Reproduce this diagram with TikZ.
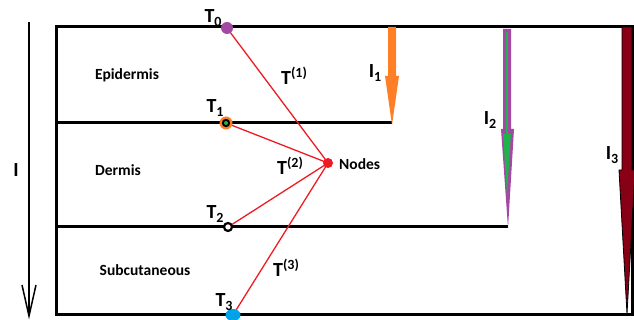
\documentclass[tikz,border=0pt]{standalone}
\usepackage{fontspec}
\setmainfont{Carlito}
\usetikzlibrary{arrows.meta}
\definecolor{orng}{HTML}{FF7F27}
\definecolor{purp}{HTML}{A349A4}
\definecolor{grn}{HTML}{22B14C}
\definecolor{dred}{HTML}{880015}
\definecolor{blu}{HTML}{00A2E8}
\definecolor{rd}{HTML}{ED1C24}
\newcommand{\mysub}[1]{\raisebox{-4pt}{\fontsize{14}{16}\selectfont #1}}
\newcommand{\mysup}[1]{\raisebox{7pt}{\fontsize{14}{16}\selectfont #1}}
\begin{document}
\begin{tikzpicture}[x=1pt,y=-1pt,
  lyr/.style={line width=3pt,black},
  lbl/.style={font=\bfseries\fontsize{15.5}{18}\selectfont,inner sep=0pt},
  tlbl/.style={font=\bfseries\fontsize{20}{22}\selectfont,inner sep=0pt},
  link/.style={rd,line width=1.3pt}]
\useasboundingbox (0,0) rectangle (634,320);
% layers
\draw[lyr] (56,27) -- (632,27) -- (632,314) -- (56,314) -- cycle;
\draw[lyr] (56,123) -- (392,123);
\draw[lyr] (56,227) -- (508,227);
% depth arrow
\coordinate (Itop) at (29,22);
\coordinate (Ibot) at (29,316);
\draw[line width=1.5pt] (Itop) -- (Ibot);
\draw[line width=1.5pt] (22,285) -- (Ibot) -- (36,285);
\node[tlbl] (Il) at (16,170) {I};
% layer names
\node[lbl] (epi) at (127,75) {Epidermis};
\node[lbl] (der) at (118,170) {Dermis};
\node[lbl] (sub) at (145,270) {Subcutaneous};
% points
\coordinate (T0) at (227,28);
\coordinate (T1) at (226,123);
\coordinate (T2) at (228,227);
\coordinate (T3) at (233,315);
\coordinate (N) at (328,163);
\draw[link] (T0) -- (N);
\draw[link] (T1) -- (N);
\draw[link] (T2) -- (N);
\draw[link] (T3) -- (N);
\fill[purp] (T0) circle (6);
\fill[orng] (T1) circle (6.5);
\fill[black] (T1) circle (4.2);
\fill[grn] (T1) circle (2);
\draw[black,line width=2.2pt,fill=white] (T2) circle (4);
\fill[blu] (T3) ellipse (7.5 and 6);
\fill[rd] (N) circle (5);
\node[tlbl,anchor=south] (t0) at (213,27) {T\mysub{0}};
\node[tlbl,anchor=south] (t1) at (215,117) {T\mysub{1}};
\node[tlbl,anchor=south] (t2) at (215,223) {T\mysub{2}};
\node[tlbl,anchor=south] (t3) at (224,311) {T\mysub{3}};
\node[tlbl] (a1) at (294,76) {T\mysup{(1)}};
\node[tlbl] (a2) at (290,166) {T\mysup{(2)}};
\node[tlbl] (a3) at (286,268) {T\mysup{(3)}};
\node[lbl,anchor=west] (nl) at (339,164) {Nodes};
% I1 arrow
\fill[orng] (388,27) -- (396,27) -- (396,76) -- (399,76) -- (392,125) -- (385,76) -- (388,76) -- cycle;
\node[tlbl] (i1) at (375,73) {I\mysub{1}};
% I2 arrow
\fill[purp] (503,29) -- (511,29) -- (511,129) -- (514,129) -- (508,228) -- (501,129) -- (503,129) -- cycle;
\draw[grn,line width=1.2pt] (507,32) -- (507,140);
\fill[grn] (503,134) -- (511,134) -- (507,195) -- cycle;
\node[tlbl] (i2) at (490,120) {I\mysub{2}};
% I3 arrow
\filldraw[fill=dred,draw=black,line width=0.8pt] (622,27) -- (632,27) -- (632,170) -- (635,170) -- (627,314) -- (619,170) -- (622,170) -- cycle;
\node[tlbl] (i3) at (612,155) {I\mysub{3}};
\end{tikzpicture}
\end{document}
